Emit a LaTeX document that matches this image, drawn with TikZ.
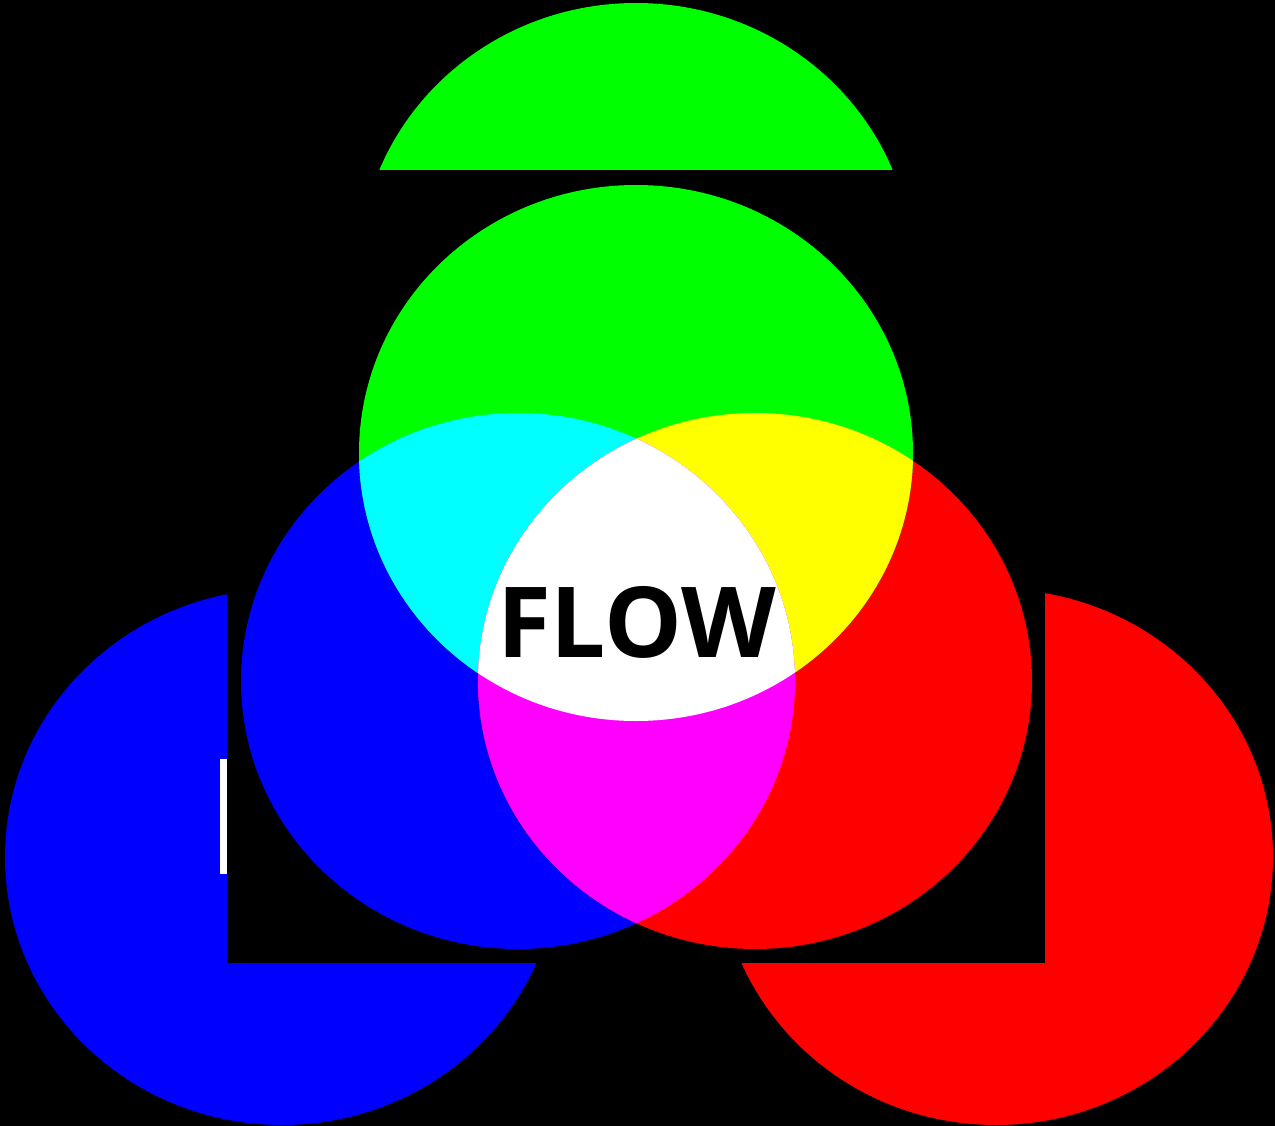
\documentclass[tikz,border=0pt]{standalone}
\usepackage{fontspec}
\newfontfamily\flowfont{Open Sans}
\definecolor{pg}{RGB}{0,255,0}
\definecolor{pb}{RGB}{0,0,255}
\definecolor{pr}{RGB}{255,0,0}
\definecolor{pc}{RGB}{0,255,255}
\definecolor{py}{RGB}{255,255,0}
\definecolor{pm}{RGB}{255,0,255}
\begin{document}
\begin{tikzpicture}[x=1pt,y=-1pt,
  disc/.style={x radius=277pt, y radius=268pt}]
\useasboundingbox (0,0) rectangle (1275,1126);
\fill[black] (0,0) rectangle (1275,1126);
% centres
\coordinate (GO) at (636,271);
\coordinate (BO) at (282,857);
\coordinate (RO) at (996,857);
\coordinate (GI) at (636,453);
\coordinate (BI) at (518,681);
\coordinate (RI) at (755,681);
% outer discs
\fill[pg] (GO) ellipse [disc];
\fill[pb] (BO) ellipse [disc];
\fill[pr] (RO) ellipse [disc];
% black panel
\fill[black] (227,170) rectangle (1045,963);
\fill[white] (220,759) rectangle (227,874);
% inner discs
\fill[pb] (BI) ellipse [disc];
\fill[pr] (RI) ellipse [disc];
\fill[pg] (GI) ellipse [disc];
\begin{scope}
  \clip (GI) ellipse [disc];
  \fill[pc] (BI) ellipse [disc];
  \fill[py] (RI) ellipse [disc];
\end{scope}
\begin{scope}
  \clip (BI) ellipse [disc];
  \fill[pm] (RI) ellipse [disc];
  \clip (RI) ellipse [disc];
  \fill[white] (GI) ellipse [disc];
\end{scope}
\node[anchor=base, inner sep=0pt, font=\flowfont\bfseries\fontsize{98}{98}\selectfont] (flow) at (636.5,657) {FLOW};
\end{tikzpicture}
\end{document}
